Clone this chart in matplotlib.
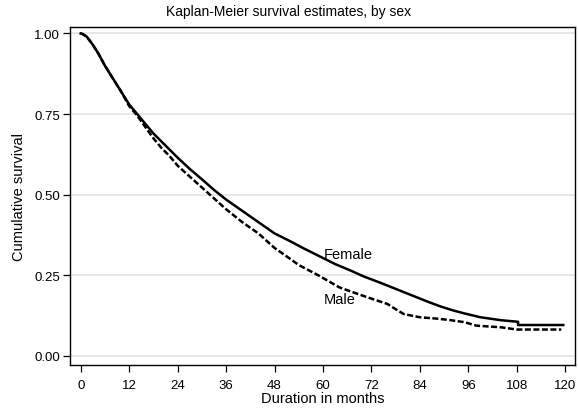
import matplotlib.pyplot as plt
import numpy as np

plt.rcParams['font.family'] = ['Liberation Sans', 'DejaVu Sans']

# Kaplan-Meier estimates (months, survival)
female_t = [0, 0.5, 1.5, 3, 4.5, 6, 8, 10, 12, 14, 16, 18, 20, 22, 24, 27, 30,
            33, 36, 40, 44, 48, 52, 55, 59, 63, 67, 70, 74, 78, 82, 86, 89,
            92, 95, 99, 104, 108.3, 108.3, 119.5]
female_s = [1.0, 0.998, 0.99, 0.965, 0.935, 0.90, 0.86, 0.82, 0.78, 0.75,
            0.72, 0.69, 0.665, 0.64, 0.615, 0.58, 0.548, 0.515, 0.485, 0.45,
            0.415, 0.38, 0.355, 0.335, 0.31, 0.285, 0.264, 0.247, 0.228,
            0.208, 0.188, 0.168, 0.154, 0.142, 0.132, 0.12, 0.111, 0.106,
            0.096, 0.096]

male_t = [0, 0.5, 1.5, 3, 4.5, 6, 8, 10, 12, 14, 16, 18, 20, 22, 24, 28, 32,
          36, 40, 44, 48, 52, 54, 59, 64, 68, 71, 76, 78, 80, 84, 88, 91, 95,
          98, 104, 108, 119]
male_s = [1.0, 0.998, 0.99, 0.965, 0.935, 0.90, 0.86, 0.82, 0.775, 0.745,
          0.71, 0.675, 0.645, 0.62, 0.59, 0.545, 0.50, 0.455, 0.415, 0.38,
          0.335, 0.30, 0.282, 0.249, 0.213, 0.195, 0.182, 0.161, 0.145, 0.13,
          0.12, 0.116, 0.112, 0.105, 0.094, 0.089, 0.082, 0.082]

y_ticks = [0.0, 0.25, 0.5, 0.75, 1.0]
x_ticks = np.arange(0, 121, 12)

fig = plt.figure(figsize=(5.78, 4.10), dpi=100)
ax = fig.add_axes([0.1211, 0.1073, 0.8737, 0.8244])

for y in y_ticks:
    ax.axhline(y, color='#e3e3e3', lw=1.2, zorder=0)

ax.plot(female_t, female_s, color='black', lw=1.8, solid_joinstyle='round')
ax.plot(male_t, male_s, color='black', lw=1.8, dashes=(2.4, 1.0))

ax.text(60.3, 0.316, 'Female', fontsize=10.5, va='center', ha='left')
ax.text(60.3, 0.177, 'Male', fontsize=10.5, va='center', ha='left')

ax.set_xlim(-2.65, 122.4)
ax.set_ylim(-0.028, 1.020)
ax.set_xticks(x_ticks)
ax.set_yticks(y_ticks)
ax.set_yticklabels(['%.2f' % v for v in y_ticks])
ax.tick_params(direction='out', length=5, width=0.9, labelsize=9.5)
ax.tick_params(axis='x', pad=5)
ax.tick_params(axis='y', pad=2)
for s in ax.spines.values():
    s.set_linewidth(1.0)

ax.set_xlabel('Duration in months', fontsize=10.5, labelpad=0)
ax.set_ylabel('Cumulative survival', fontsize=10.5, labelpad=6)
fig.text(0.5, 0.97, 'Kaplan-Meier survival estimates, by sex', fontsize=10,
         ha='center', va='center')

fig.savefig('out.png', dpi=100)
